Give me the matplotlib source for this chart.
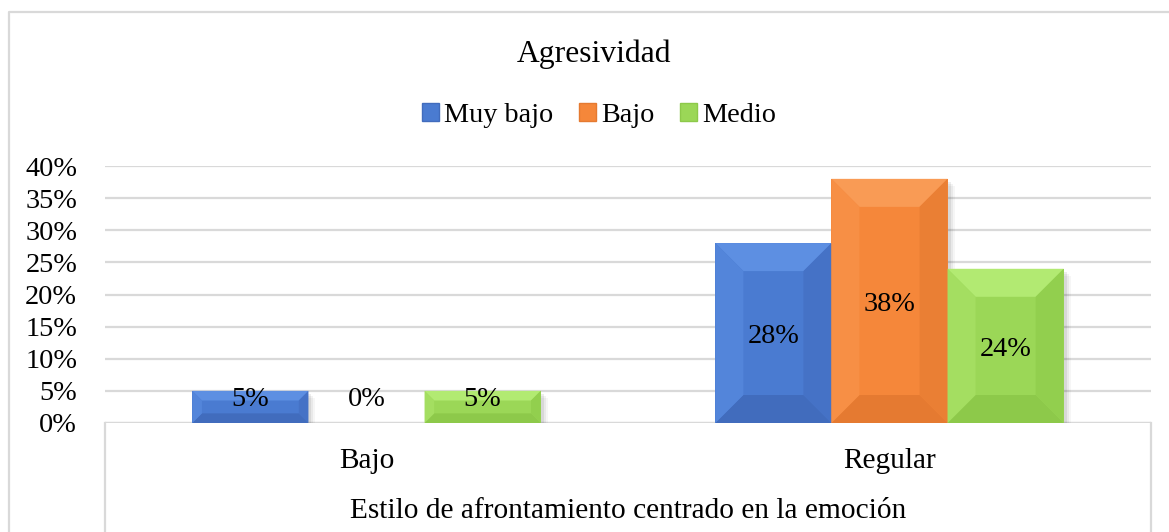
import matplotlib
matplotlib.use("Agg")
import matplotlib.pyplot as plt
from matplotlib.patches import Polygon, Patch
from matplotlib.lines import Line2D
import numpy as np

# ---- data ----
categories = ["Bajo", "Regular"]
series_names = ["Muy bajo", "Bajo", "Medio"]
muy_bajo = [5, 28]
bajo = [0, 38]
medio = [5, 24]
yticks = [0, 5, 10, 15, 20, 25, 30, 35, 40]
title = "Agresividad"
xlabel = "Estilo de afrontamiento centrado en la emoción"

W, H = 1169, 532
plt.rcParams['font.family'] = ['Liberation Serif', 'DejaVu Serif']

fig = plt.figure(figsize=(W / 100, H / 100), dpi=100)

def fx(px):
    return px / W

def fy(py):
    return 1 - py / H

ax_l, ax_r, ax_t, ax_b = 105, 1151, 166, 423
ax = fig.add_axes([fx(ax_l), fy(ax_b), fx(ax_r) - fx(ax_l), fy(ax_t) - fy(ax_b)])
ax.set_xlim(-0.5, 1.5)
ax.set_ylim(0, 40)
for s in ax.spines.values():
    s.set_visible(False)
ax.set_yticks(yticks)
ax.set_yticklabels([f"{v}%" for v in yticks], fontsize=20.3)
ax.tick_params(axis='y', length=0, pad=20)
ax.set_xticks([])
ax.yaxis.grid(True, color='#d9d9d9', lw=1.6)
ax.set_axisbelow(True)

palette = {
    "Muy bajo": dict(face='#4a7bd1', top='#5d8fe2', left='#5385da', right='#4572c6', bottom='#416cbd'),
    "Bajo": dict(face='#f5873a', top='#f99b55', left='#f78f45', right='#ea7f34', bottom='#e57a31'),
    "Medio": dict(face='#9bd757', top='#b2ea72', left='#a4de61', right='#92cf4e', bottom='#8dc94a'),
}

series = [muy_bajo, bajo, medio]
width = 0.222
offsets = [-width, 0, width]
x = np.arange(len(categories))

to_disp = ax.transData
to_data = ax.transData.inverted()

def bevel(rect, cols):
    x0, y0 = rect.get_x(), rect.get_y()
    w, h = rect.get_width(), rect.get_height()
    if h <= 0:
        return
    (X0, Y0) = to_disp.transform((x0, y0))
    (X1, Y1) = to_disp.transform((x0 + w, y0 + h))
    hp, wp = Y1 - Y0, X1 - X0
    b = min(28, 0.3 * hp, 0.3 * wp)
    # soft shadow
    for k, a in [(7, 0.035), (5, 0.05), (3, 0.07)]:
        pts = [(X0 + k, Y0 - k), (X1 + k, Y0 - k), (X1 + k, Y1 - k), (X0 + k, Y1 - k)]
        ax.add_patch(Polygon(to_data.transform(pts), closed=True, fc='black', ec='none',
                             alpha=a, zorder=1.5))
    ax.add_patch(Polygon(to_data.transform([(X0, Y0), (X1, Y0), (X1, Y1), (X0, Y1)]),
                         closed=True, fc=cols['face'], ec='none', zorder=2))
    facets = {
        'top': [(X0, Y1), (X1, Y1), (X1 - b, Y1 - b), (X0 + b, Y1 - b)],
        'bottom': [(X0, Y0), (X1, Y0), (X1 - b, Y0 + b), (X0 + b, Y0 + b)],
        'left': [(X0, Y0), (X0, Y1), (X0 + b, Y1 - b), (X0 + b, Y0 + b)],
        'right': [(X1, Y0), (X1, Y1), (X1 - b, Y1 - b), (X1 - b, Y0 + b)],
    }
    for key, pts in facets.items():
        ax.add_patch(Polygon(to_data.transform(pts), closed=True, fc=cols[key],
                             ec='none', zorder=2.1))

for name, vals, off in zip(series_names, series, offsets):
    bars = ax.bar(x + off, vals, width, color='none', edgecolor='none', zorder=2)
    for rect, v in zip(bars, vals):
        bevel(rect, palette[name])
        ly = max(v / 2 - 0.5, 3.6)
        ax.text(rect.get_x() + rect.get_width() / 2, ly, f"{v}%", ha='center', va='center',
                fontsize=20.3, color='black', zorder=5)

# baseline
ax.axhline(0, color='#d9d9d9', lw=1.6, zorder=1)

# category table lines and labels
fig.add_artist(Line2D([fx(ax_l), fx(ax_l)], [fy(ax_b), 0], color='#d9d9d9', lw=1.6))
fig.add_artist(Line2D([fx(ax_r), fx(ax_r)], [fy(ax_b), 0], color='#d9d9d9', lw=1.6))
for i, c in enumerate(categories):
    xd = to_disp.transform((x[i], 0))[0]
    fig.text(xd / W, fy(461), c, ha='center', va='center', fontsize=21.2)
fig.text((fx(ax_l) + fx(ax_r)) / 2, fy(511), xlabel, ha='center', va='center', fontsize=21.2)

# outer chart border
fig.add_artist(Line2D([fx(9), fx(9), 1], [0, fy(12), fy(12)], color='#d9d9d9', lw=1.6))

# title
fig.text(fx(594), fy(54), title, ha='center', va='center', fontsize=22.8)

# legend
handles = [Patch(facecolor=palette[n]['face'], edgecolor=palette[n]['bottom'], lw=1.0) for n in series_names]
fig.legend(handles, series_names, loc='center', bbox_to_anchor=(fx(599), fy(115)), ncol=3,
           frameon=False, fontsize=20.3, handlelength=0.6, handleheight=0.6,
           handletextpad=0.2, columnspacing=0.9, borderpad=0)

fig.savefig("out.png", dpi=100)
